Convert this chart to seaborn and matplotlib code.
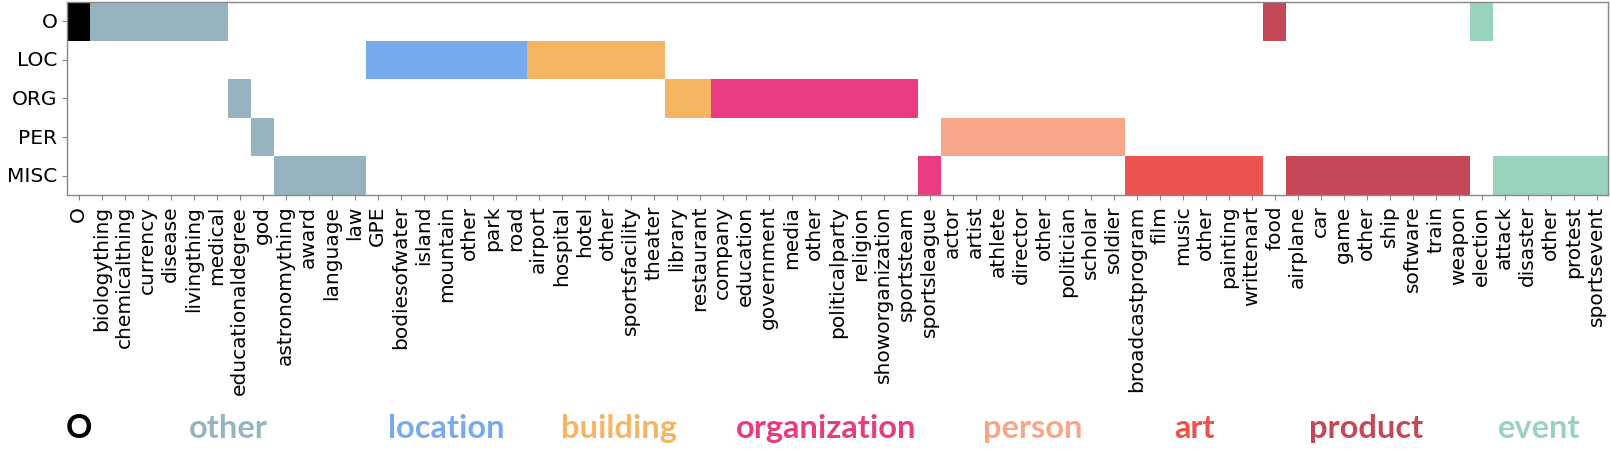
import numpy as np
import pandas as pd
import matplotlib
matplotlib.use("Agg")
import matplotlib.pyplot as plt
from matplotlib.colors import ListedColormap
from matplotlib.transforms import blended_transform_factory
import seaborn as sns

# coarse tags (rows)
coarse = ['O', 'LOC', 'ORG', 'PER', 'MISC']

# fine-grained labels (columns), in plotted order
fine = ['O',
        'biologything', 'chemicalthing', 'currency', 'disease', 'livingthing', 'medical',
        'educationaldegree', 'god', 'astronomything', 'award', 'language', 'law',
        'GPE', 'bodiesofwater', 'island', 'mountain', 'other', 'park', 'road',
        'airport', 'hospital', 'hotel', 'other', 'sportsfacility', 'theater',
        'library', 'restaurant',
        'company', 'education', 'government', 'media', 'other', 'politicalparty',
        'religion', 'showorganization', 'sportsteam', 'sportsleague',
        'actor', 'artist', 'athlete', 'director', 'other', 'politician', 'scholar', 'soldier',
        'broadcastprogram', 'film', 'music', 'other', 'painting', 'writtenart',
        'food', 'airplane', 'car', 'game', 'other', 'ship', 'software', 'train', 'weapon',
        'election', 'attack', 'disaster', 'other', 'protest', 'sportsevent']

# coarse tag each fine label maps onto
mapped = (['O'] + ['O'] * 6 + ['ORG', 'PER'] + ['MISC'] * 4
          + ['LOC'] * 7 + ['LOC'] * 6 + ['ORG'] * 2
          + ['ORG'] * 9 + ['MISC']
          + ['PER'] * 8 + ['MISC'] * 6
          + ['O'] + ['MISC'] * 8
          + ['O'] + ['MISC'] * 5)

# fine-grained group each label belongs to
groups = ['O', 'other', 'location', 'building', 'organization', 'person', 'art', 'product', 'event']
group_colors = ['#000000', '#95b4bf', '#78aaee', '#f5b562', '#e83b80',
                '#f8a689', '#ec524e', '#c54859', '#99d3bb']
group_of = (['O'] + ['other'] * 12 + ['location'] * 7 + ['building'] * 8
            + ['organization'] * 10 + ['person'] * 8 + ['art'] * 6
            + ['product'] * 9 + ['event'] * 6)

mat = np.full((len(coarse), len(fine)), np.nan)
for j, (c, g) in enumerate(zip(mapped, group_of)):
    mat[coarse.index(c), j] = groups.index(g)

df = pd.DataFrame(mat, index=coarse, columns=range(len(fine)))

fig = plt.figure(figsize=(16.11, 4.52), dpi=100)
ax = fig.add_axes([0.0416, 0.5664, 0.9566, 0.427])

sns.heatmap(df, ax=ax, cmap=ListedColormap(group_colors), vmin=-0.5, vmax=len(groups) - 0.5,
            cbar=False, xticklabels=fine, yticklabels=coarse)

ax.set_xticks(np.arange(len(fine)) + 0.5)
ax.set_xticklabels(fine, rotation=90, fontsize=14.5)
ax.set_yticklabels(coarse, rotation=0, fontsize=14.5)
ax.tick_params(axis='both', length=3.5, color='#888888')
for sp in ax.spines.values():
    sp.set_visible(True)
    sp.set_color('#888888')
    sp.set_linewidth(1)

# coloured group names underneath
trans = blended_transform_factory(ax.transData, fig.transFigure)
for g, col in zip(groups, group_colors):
    idx = [j for j, gg in enumerate(group_of) if gg == g]
    xc = (idx[0] + idx[-1] + 1) / 2
    ax.text(xc, 1 - 438 / 452, g, transform=trans, ha='center', va='baseline',
            fontsize=23.5, fontweight='bold', family='Lato', color=col)

fig.savefig('out.png', dpi=100)
